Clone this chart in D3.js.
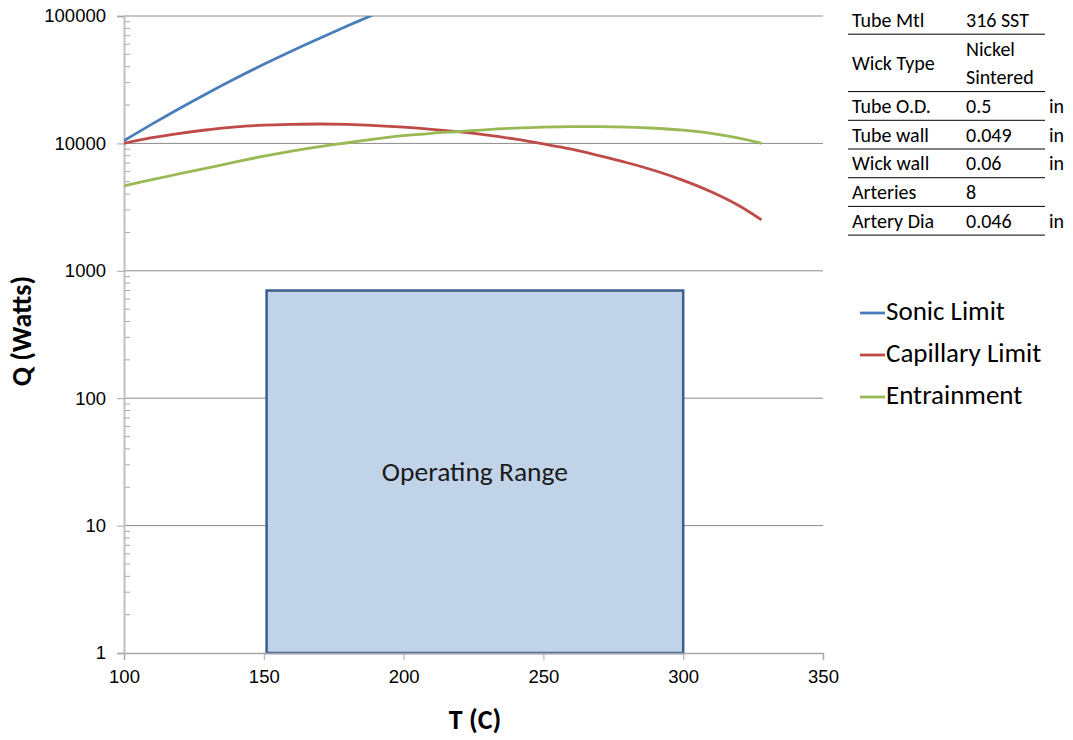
<!DOCTYPE html>
<html>
<head>
<meta charset="utf-8">
<script src="https://cdn.jsdelivr.net/npm/d3@7"></script>
<style>
  body { margin: 0; background: #fff; }
  svg { font-family: Carlito, Calibri, Lato, sans-serif; }
</style>
</head>
<body>
<svg id="chart" width="1073" height="740"></svg>
<script>
// temperatures (C) and heat transport limits (W)
const temps = [100, 110, 120, 130, 140, 150, 160, 170, 180, 190, 200, 210, 220, 230, 240, 250, 260, 270, 280, 290, 300, 310, 320, 328];
const sonic = [10500, 14160, 18880, 24890, 32430, 41780, 53210, 66990, 83750, 104200];
const capillary = [10000, 11100, 12000, 12800, 13500, 13900, 14100, 14200, 14100, 13800, 13400, 12900, 12300, 11600, 10800, 9900, 9000, 8000, 7050, 6100, 5130, 4170, 3240, 2510];
const entrainment = [4640, 5190, 5780, 6430, 7160, 7940, 8710, 9440, 10120, 10840, 11500, 12000, 12400, 12850, 13180, 13420, 13540, 13540, 13420, 13150, 12700, 12000, 11000, 10000];

const seriesNames = ['Sonic Limit', 'Capillary Limit', 'Entrainment'];
const seriesColors = ['#4a7ebb', '#be4b48', '#98b954'];

const opRange = { t0: 151, t1: 300, q0: 1, q1: 700 };

const xTicks = [100, 150, 200, 250, 300, 350];
const yTicks = [1, 10, 100, 1000, 10000, 100000];

const tableLabels = ['Tube Mtl', 'Wick Type', 'Tube O.D.', 'Tube wall', 'Wick wall', 'Arteries', 'Artery Dia'];
const tableValues = [['316 SST'], ['Nickel', 'Sintered'], ['0.5'], ['0.049'], ['0.06'], ['8'], ['0.046']];
const tableUnits = ['', '', 'in', 'in', 'in', '', 'in'];

const svg = d3.select('#chart');
const pLeft = 124, pRight = 823, pTop = 16, pBottom = 653;

const x = d3.scaleLinear().domain([100, 350]).range([pLeft, pRight]);
const y = d3.scaleLog().domain([1, 100000]).range([pBottom, pTop]);

// horizontal gridlines
svg.append('g')
  .selectAll('line')
  .data(yTicks.slice(1))
  .join('line')
    .attr('x1', pLeft).attr('x2', pRight)
    .attr('y1', d => y(d)).attr('y2', d => y(d))
    .attr('stroke', '#8a8a8a').attr('stroke-width', 1);

// operating range box
svg.append('rect')
  .attr('x', x(opRange.t0))
  .attr('y', y(opRange.q1))
  .attr('width', x(opRange.t1) - x(opRange.t0))
  .attr('height', y(opRange.q0) - y(opRange.q1))
  .attr('fill', '#c1d3e8')
  .attr('stroke', '#3b5e8c')
  .attr('stroke-width', 2.5);

svg.append('text')
  .attr('x', (x(opRange.t0) + x(opRange.t1)) / 2)
  .attr('y', 481)
  .attr('text-anchor', 'middle')
  .attr('font-size', 27.5)
  .attr('fill', '#1a1a1a')
  .text('Operating Range');

// x axis
const xAxis = svg.append('g')
  .attr('transform', `translate(0,${pBottom})`)
  .call(d3.axisBottom(x).tickValues(xTicks).tickSize(7).tickPadding(10).tickFormat(d3.format('d')));
xAxis.select('.domain').attr('stroke', '#a6a6a6').attr('stroke-width', 1.5);
xAxis.selectAll('.tick line').attr('stroke', '#a6a6a6');
xAxis.selectAll('text').attr('font-size', 18.5).attr('fill', '#000');

// y axis: major ticks outward, minor ticks inward
const minor = [];
for (let e = 0; e < 5; e++) for (let m = 2; m <= 9; m++) minor.push(m * Math.pow(10, e));

svg.append('g')
  .selectAll('line')
  .data(minor)
  .join('line')
    .attr('x1', pLeft).attr('x2', pLeft + 6)
    .attr('y1', d => y(d)).attr('y2', d => y(d))
    .attr('stroke', '#a6a6a6');

const yAxis = svg.append('g')
  .attr('transform', `translate(${pLeft},0)`)
  .call(d3.axisLeft(y).tickValues(yTicks).tickSize(7).tickPadding(11).tickFormat(d3.format('d')));
yAxis.select('.domain').attr('stroke', '#bfbfbf').attr('stroke-width', 2);
yAxis.selectAll('.tick line').attr('stroke', '#a6a6a6');
yAxis.selectAll('text').attr('font-size', 18.5).attr('fill', '#000');

// series lines
svg.append('clipPath').attr('id', 'plot')
  .append('rect').attr('x', pLeft).attr('y', pTop).attr('width', pRight - pLeft).attr('height', pBottom - pTop);

const line = d3.line()
  .x(d => x(d[0]))
  .y(d => y(d[1]))
  .curve(d3.curveCatmullRom.alpha(0.5));

[sonic, capillary, entrainment].forEach((vals, i) => {
  svg.append('path')
    .datum(vals.map((v, k) => [temps[k], v]))
    .attr('clip-path', 'url(#plot)')
    .attr('fill', 'none')
    .attr('stroke', seriesColors[i])
    .attr('stroke-width', 2.8)
    .attr('d', line);
});

// axis titles
svg.append('text')
  .attr('x', 475)
  .attr('y', 729)
  .attr('text-anchor', 'middle')
  .attr('font-size', 28).attr('font-weight', 'bold')
  .text('T (C)');

svg.append('text')
  .attr('transform', `translate(31,331) rotate(-90)`)
  .attr('text-anchor', 'middle')
  .attr('font-size', 28).attr('font-weight', 'bold')
  .text('Q (Watts)');

// legend
const legend = svg.append('g').attr('transform', 'translate(860,313)');
seriesNames.forEach((name, i) => {
  const g = legend.append('g').attr('transform', `translate(0,${i * 42})`);
  g.append('line').attr('x1', 0).attr('x2', 25).attr('stroke', seriesColors[i]).attr('stroke-width', 2.8);
  g.append('text').attr('x', 26).attr('y', 7).attr('font-size', 27).text(name);
});

// parameters table
const rowH = 28.7;
let rowY = 5.5;
const table = svg.append('g');
tableLabels.forEach((label, i) => {
  const lines = tableValues[i];
  const h = rowH * lines.length;
  table.append('text')
    .attr('x', 852).attr('y', rowY + h / 2 + 7)
    .attr('font-size', 20).text(label);
  lines.forEach((v, k) => {
    table.append('text')
      .attr('x', 966).attr('y', rowY + rowH * k + rowH / 2 + 7)
      .attr('font-size', 20).text(v);
  });
  if (tableUnits[i]) {
    table.append('text')
      .attr('x', 1049).attr('y', rowY + h / 2 + 7)
      .attr('font-size', 20).text(tableUnits[i]);
  }
  rowY += h;
  table.append('line')
    .attr('x1', 848).attr('x2', 1045)
    .attr('y1', rowY).attr('y2', rowY)
    .attr('stroke', '#000').attr('stroke-width', 1);
});
</script>
</body>
</html>
